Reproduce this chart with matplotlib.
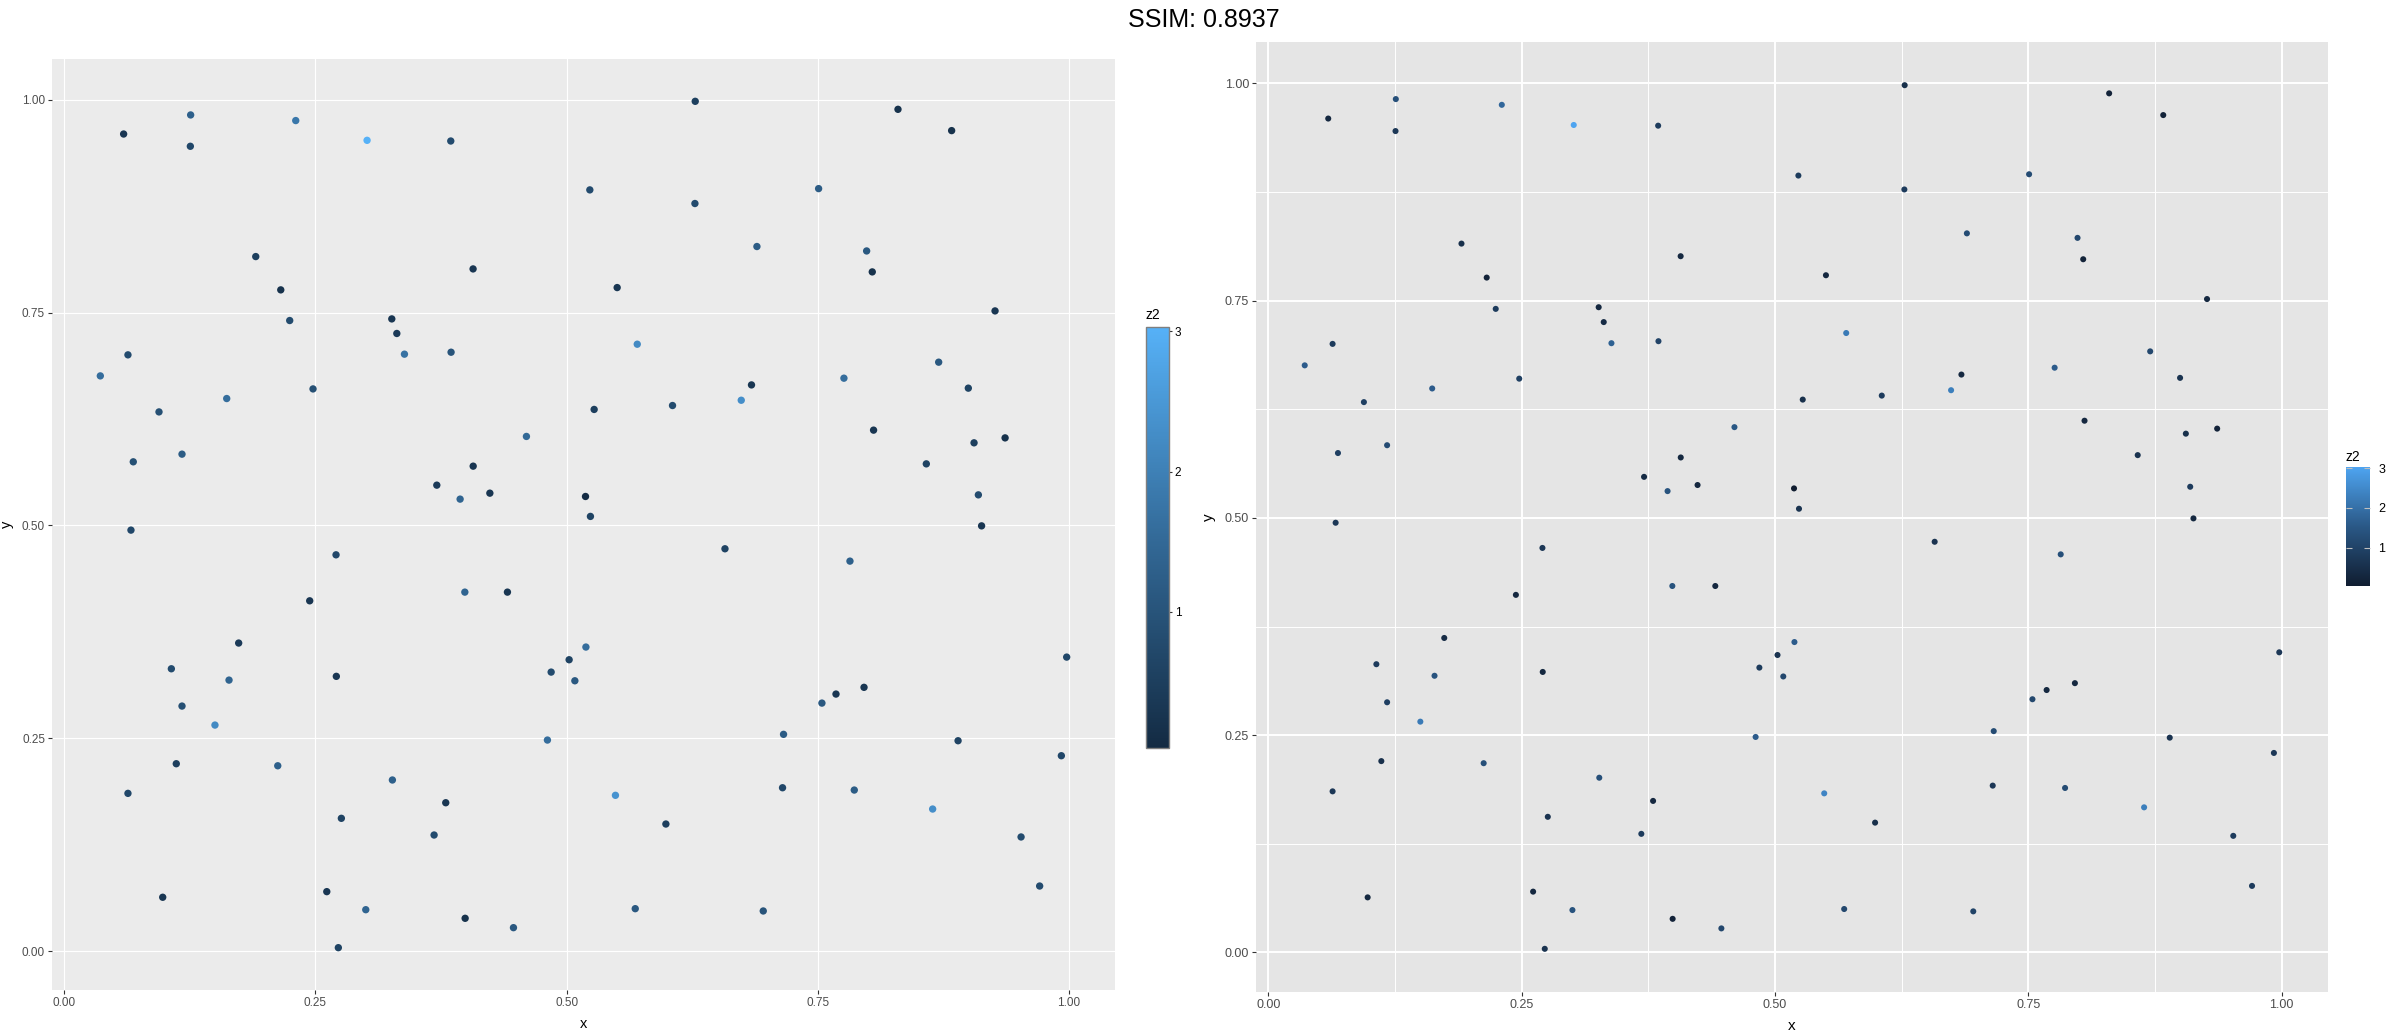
import numpy as np
import matplotlib
matplotlib.use("Agg")
import matplotlib.pyplot as plt
from matplotlib.colors import LinearSegmentedColormap, Normalize
from matplotlib.ticker import MultipleLocator

plt.rcParams['font.family'] = ['Liberation Sans', 'DejaVu Sans']

# data (same points in both panels)
x = [0.1258, 0.0591, 0.1255, 0.2304, 0.3014, 0.1906, 0.2155, 0.2244, 0.3260, 0.3310,
     0.3386, 0.0634, 0.0359, 0.2476, 0.1617, 0.0943, 0.1172, 0.0687,
     0.6280, 0.3847, 0.5231, 0.6277, 0.6894, 0.4069, 0.5503, 0.5703, 0.3850, 0.6840,
     0.6738, 0.5274, 0.6054, 0.4600, 0.4070, 0.3708, 0.3940, 0.4236, 0.5188, 0.5237,
     0.8298, 0.8832, 0.7508, 0.7986, 0.8042, 0.9264, 0.8703, 0.7760, 0.8998, 0.8055,
     0.9055, 0.9364, 0.8580, 0.9098, 0.9130,
     0.0664, 0.2705, 0.2443, 0.1736, 0.1066, 0.1640, 0.2708, 0.1172, 0.1500, 0.1115,
     0.2125, 0.3266, 0.0634, 0.2758, 0.0980, 0.2613, 0.3001, 0.2728,
     0.6576, 0.3987, 0.4411, 0.5192, 0.5025, 0.4846, 0.5082, 0.4809, 0.5486, 0.3797,
     0.3681, 0.5988, 0.5683, 0.6957, 0.3990, 0.4471,
     0.7820, 0.9977, 0.7960, 0.7681, 0.7541, 0.7159, 0.8896, 0.9924, 0.7149, 0.7863,
     0.8643, 0.9523, 0.9708]
y = [0.9820, 0.9596, 0.9452, 0.9754, 0.9522, 0.8157, 0.7766, 0.7406, 0.7425, 0.7254,
     0.7011, 0.7003, 0.6756, 0.6603, 0.6490, 0.6333, 0.5837, 0.5747,
     0.9980, 0.9514, 0.8940, 0.8780, 0.8275, 0.8012, 0.7793, 0.7128, 0.7034, 0.6650,
     0.6470, 0.6362, 0.6408, 0.6045, 0.5696, 0.5473, 0.5309, 0.5379, 0.5340, 0.5106,
     0.9886, 0.9636, 0.8955, 0.8223, 0.7977, 0.7519, 0.6917, 0.6729, 0.6612, 0.6119,
     0.5970, 0.6028, 0.5723, 0.5359, 0.4995,
     0.4945, 0.4655, 0.4115, 0.3619, 0.3317, 0.3184, 0.3228, 0.2879, 0.2656, 0.2202,
     0.2178, 0.2011, 0.1854, 0.1561, 0.0634, 0.0700, 0.0488, 0.0042,
     0.4726, 0.4217, 0.4217, 0.3572, 0.3423, 0.3278, 0.3176, 0.2480, 0.1831, 0.1744,
     0.1365, 0.1494, 0.0500, 0.0473, 0.0387, 0.0277,
     0.4581, 0.3454, 0.3099, 0.3020, 0.2914, 0.2547, 0.2472, 0.2296, 0.1920, 0.1893,
     0.1670, 0.1342, 0.0766]
z2 = [1.3, 0.3, 0.7, 1.8, 3.03, 0.5, 0.2, 0.8, 0.3, 0.4,
      1.7, 0.8, 1.6, 0.9, 1.6, 0.9, 1.2, 0.9,
      0.5, 0.8, 0.8, 0.8, 1.2, 0.3, 0.3, 2.2, 1.0, 0.3,
      2.3, 0.5, 0.8, 1.5, 0.3, 0.4, 1.4, 0.3, 0.03, 0.6,
      0.2, 0.2, 1.2, 1.1, 0.2, 0.3, 1.1, 1.6, 0.6, 0.3,
      0.5, 0.2, 0.6, 0.8, 0.3,
      0.7, 0.7, 0.3, 0.4, 0.8, 1.4, 0.3, 0.9, 2.2, 0.5,
      1.3, 1.3, 0.7, 0.6, 0.3, 0.3, 1.4, 0.6,
      0.6, 1.4, 0.3, 1.6, 0.6, 0.8, 1.1, 1.6, 2.4, 0.3,
      0.8, 0.5, 1.1, 1.0, 0.2, 1.1,
      1.3, 0.7, 0.3, 0.3, 1.1, 1.2, 0.6, 0.7, 0.7, 1.2,
      2.3, 0.8, 0.8]

ticks = [0.00, 0.25, 0.50, 0.75, 1.00]
tick_labels = ['0.00', '0.25', '0.50', '0.75', '1.00']
cbar_ticks = [1, 2, 3]

W, H = 2400, 1034
fig = plt.figure(figsize=(W / 100, H / 100), dpi=100)
fig.patch.set_facecolor('white')

def box(x0, y0, x1, y1):
    # pixel box -> figure fraction
    return [x0 / W, 1 - y1 / H, (x1 - x0) / W, (y1 - y0) / H]

norm = Normalize(vmin=min(z2), vmax=max(z2))
cmap_left = LinearSegmentedColormap.from_list('gg', ['#132B43', '#336A98', '#56B1F7'])
cmap_right = LinearSegmentedColormap.from_list('gg2', ['#101D30', '#2A5886', '#4EA4F0'])

def panel(rect, bg, cmap, size, minor, fs, major_lw):
    ax = fig.add_axes(rect)
    ax.set_facecolor(bg)
    sc = ax.scatter(x, y, c=z2, cmap=cmap, norm=norm, s=size, linewidths=0, zorder=3)
    ax.margins(0.05)
    ax.set_xticks(ticks)
    ax.set_xticklabels(tick_labels)
    ax.set_yticks(ticks)
    ax.set_yticklabels(tick_labels)
    if minor:
        ax.xaxis.set_minor_locator(MultipleLocator(0.125))
        ax.yaxis.set_minor_locator(MultipleLocator(0.125))
        ax.grid(True, which='minor', color='white', lw=0.7, zorder=0)
        ax.tick_params(which='minor', length=0)
    ax.grid(True, which='major', color='white', lw=major_lw, zorder=0)
    ax.set_axisbelow(True)
    for s in ax.spines.values():
        s.set_visible(False)
    ax.tick_params(which='major', length=3, width=0.8, color='#333333',
                   labelcolor='#4D4D4D', labelsize=fs, pad=2)
    ax.set_xlabel('x', fontsize=fs + 2, labelpad=6)
    ax.set_ylabel('y', fontsize=fs + 2, labelpad=6)
    return sc

# left panel (reference render)
sc1 = panel(box(52, 59, 1115, 990), '#EBEBEB', cmap_left, 28, False, 8.5, 0.8)
cax1 = fig.add_axes(box(1146, 327, 1169, 748))
cb1 = fig.colorbar(sc1, cax=cax1, ticks=cbar_ticks)
cb1.outline.set_edgecolor('#7F7F7F')
cb1.outline.set_linewidth(1.0)
cax1.tick_params(direction='out', length=2, width=0.8, color='#333333',
                 labelsize=8.5, pad=2)
cax1.set_title('z2', fontsize=10, loc='left', pad=6)

# right panel
sc2 = panel(box(1256, 42, 2328, 992), '#E5E5E5', cmap_right, 19, True, 9, 1.4)
cax2 = fig.add_axes(box(2346, 467, 2370, 586))
cb2 = fig.colorbar(sc2, cax=cax2, ticks=cbar_ticks)
cb2.outline.set_visible(False)
cax2.tick_params(direction='in', length=4, width=0.8, color='#BFBFBF',
                 left=True, right=True, labelsize=9, pad=6)
cax2.set_title('z2', fontsize=10, loc='left', pad=4)

fig.text(0.5015, 1 - 20 / H, 'SSIM: 0.8937', ha='center', va='center', fontsize=18)

fig.savefig('out.png', dpi=100)
